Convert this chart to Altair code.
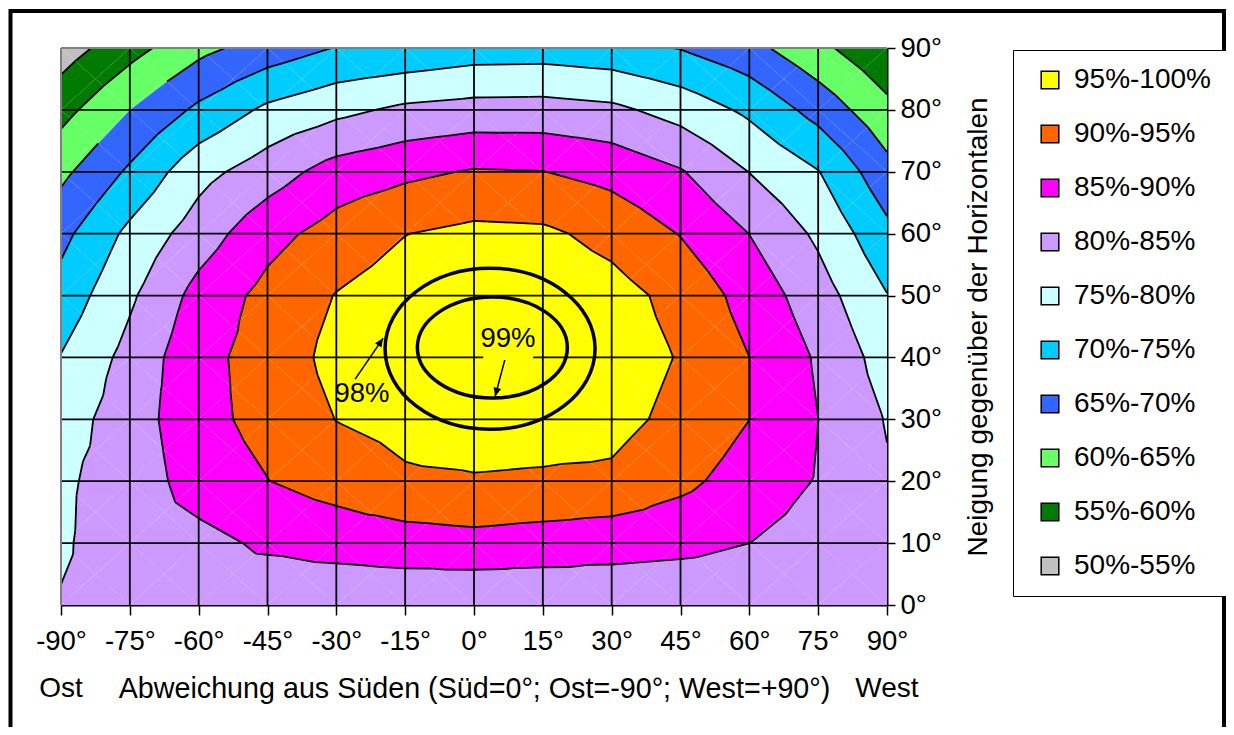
import altair as alt
import pandas as pd

# ---------------- data ----------------
azimuth = [-90, -75, -60, -45, -30, -15, 0, 15, 30, 45, 60, 75, 90]
tilt = [0, 10, 20, 30, 40, 50, 60, 70, 80, 90]

# relative yield (%) per tilt row, columns follow `azimuth`
tilt_00 = [80.3, 82.0, 82.5, 81.2, 80.9, 81.1, 80.5, 80.8, 81.4, 81.0, 81.0, 81.0, 81.0]
tilt_10 = [79.4, 82.7, 83.4, 85.9, 87.0, 87.7, 88.4, 87.7, 86.9, 86.4, 85.02, 83.0, 81.5]
tilt_20 = [79.3, 82.0, 87.4, 89.9, 92.0, 94.3, 94.6, 94.3, 94.1, 91.2, 87.8, 84.7, 80.5]
tilt_30 = [77.8, 82.5, 88.5, 91.5, 95.1, 96.5, 97.5, 97.3, 96.5, 93.7, 90.02, 85.02, 79.7]
tilt_40 = [75.2, 81.6, 88.5, 92.0, 96.5, 97.8, 99.2, 99.3, 97.5, 94.7, 90.02, 84.4, 77.8]
tilt_50 = [71.9, 79.2, 86.7, 91.5, 95.2, 97.5, 98.6, 98.5, 96.8, 93.5, 88.1, 82.2, 75.15]
tilt_60 = [68.6, 76.2, 82.5, 88.3, 92.0, 94.9, 96.2, 95.9, 93.5, 89.8, 84.95, 79.1, 71.3]
tilt_70 = [63.8, 70.8, 78.3, 82.6, 87.1, 88.9, 90.4, 90.1, 88.4, 85.4, 79.9, 75.2, 66.7]
tilt_80 = [58.3, 65.0, 71.0, 76.0, 78.7, 81.0, 81.9, 82.0, 81.1, 78.1, 74.0, 68.2, 61.4]
tilt_90 = [52.5, 58.2, 63.6, 67.2, 70.2, 71.0, 72.4, 72.6, 71.7, 69.8, 66.6, 61.3, 55.8]
yield_grid = [tilt_00, tilt_10, tilt_20, tilt_30, tilt_40,
              tilt_50, tilt_60, tilt_70, tilt_80, tilt_90]

levels = [50, 55, 60, 65, 70, 75, 80, 85, 90, 95, 100]
band_labels = ["50%-55%", "55%-60%", "60%-65%", "65%-70%", "70%-75%",
               "75%-80%", "80%-85%", "85%-90%", "90%-95%", "95%-100%"]
band_colors = ["#C0C0C0", "#007A00", "#66FF66", "#3366FF", "#00CCFF",
               "#CCFFFF", "#CC99FF", "#FF00FF", "#FF6600", "#FFFF00"]

# annotations (98% / 99% rings, labels, arrows)
ring_labels = ["98%", "99%"]
ring_x = [3.5, 4.0]
ring_y = [41.4, 41.6]
label_x = [-24.4, 7.4]
label_y = [34.1, 42.9]
arrow_x = [-25.9, 6.75]
arrow_y = [36.5, 39.7]
arrow_x2 = [-19.8, 4.6]
arrow_y2 = [43.1, 33.7]
arrow_angle = [34.6, 195.0]
box_x = [2.0]
box_x2 = [12.9]
box_y = [39.6]
box_y2 = [44.8]
side_labels = ["Ost", "West"]
side_x = [-90, 90]

FONT = "Liberation Sans"


# ---------------- contour bands (Excel style: 4 triangles per cell) ----------------
def clip(poly, level, keep_above):
    out = []
    n = len(poly)
    for i in range(n):
        a = poly[i]
        b = poly[(i + 1) % n]
        ia = a[2] >= level if keep_above else a[2] <= level
        ib = b[2] >= level if keep_above else b[2] <= level
        if ia:
            out.append(a)
        if ia != ib:
            t = (level - a[2]) / (b[2] - a[2])
            out.append((a[0] + t * (b[0] - a[0]), a[1] + t * (b[1] - a[1]), level))
    return out


def area(poly):
    s = 0.0
    for i in range(len(poly)):
        a = poly[i]
        b = poly[(i + 1) % len(poly)]
        s += a[0] * b[1] - b[0] * a[1]
    return abs(s) / 2


poly_rows = []
seg_rows = []
pid = 0
nb = len(band_labels)
for j in range(len(tilt) - 1):
    for i in range(len(azimuth) - 1):
        x0, x1 = azimuth[i], azimuth[i + 1]
        y0, y1 = tilt[j], tilt[j + 1]
        corners = [(x0, y0, yield_grid[j][i]), (x1, y0, yield_grid[j][i + 1]),
                   (x1, y1, yield_grid[j + 1][i + 1]), (x0, y1, yield_grid[j + 1][i])]
        cv = sum(c[2] for c in corners) / 4
        center = ((x0 + x1) / 2, (y0 + y1) / 2, cv)
        for t in range(4):
            tri = [corners[t], corners[(t + 1) % 4], center]
            for b in range(nb):
                p = tri
                if b > 0:
                    p = clip(p, levels[b], True)
                if b < nb - 1 and len(p) >= 3:
                    p = clip(p, levels[b + 1], False)
                if len(p) >= 3 and area(p) > 1e-6:
                    for k, pt in enumerate(p):
                        poly_rows.append({"pid": pid, "k": k, "x": pt[0], "y": pt[1],
                                          "band": band_labels[b]})
                    pid += 1
            for L in levels[1:-1]:
                pts = []
                for e in range(3):
                    a = tri[e]
                    bb = tri[(e + 1) % 3]
                    if (a[2] - L) * (bb[2] - L) < 0:
                        tt = (L - a[2]) / (bb[2] - a[2])
                        pts.append((a[0] + tt * (bb[0] - a[0]), a[1] + tt * (bb[1] - a[1])))
                if len(pts) == 2:
                    seg_rows.append({"x": pts[0][0], "y": pts[0][1],
                                     "x2": pts[1][0], "y2": pts[1][1]})

poly_df = pd.DataFrame(poly_rows)
seg_df = pd.DataFrame(seg_rows)

xs = alt.Scale(domain=[-90, 90], nice=False, zero=False)
ys = alt.Scale(domain=[0, 90], nice=False, zero=False)

x_axis = alt.Axis(values=azimuth, labelExpr="datum.value + '°'",
                  title="Abweichung aus Süden (Süd=0°; Ost=-90°; West=+90°)",
                  grid=False, tickSize=10, tickColor="black", tickWidth=1.5,
                  domainColor="black", domainWidth=2, labelFontSize=27.5,
                  labelColor="black", labelPadding=12, labelFlush=False,
                  labelOverlap=False, labelFont=FONT,
                  titleFont=FONT, titleFontSize=28.7, titleFontWeight="normal",
                  titleColor="black", titleY=92, titleBaseline="alphabetic")
y_axis = alt.Axis(orient="right", values=tilt, labelExpr="datum.value + '°'",
                  title="Neigung gegenüber der Horizontalen",
                  grid=False, tickSize=8, tickColor="black", tickWidth=1.5,
                  domainColor="black", domainWidth=2, labelFontSize=27.5,
                  labelColor="black", labelPadding=5, labelFlush=False,
                  labelOverlap=False, labelFont=FONT,
                  titleFont=FONT, titleFontSize=28, titleFontWeight="normal",
                  titleColor="black", titleAngle=270, titleX=91, titleY=278.5,
                  titleAlign="center", titleBaseline="middle")

X = lambda f: alt.X(f, scale=xs)
Y = lambda f: alt.Y(f, scale=ys)

bands = alt.Chart(poly_df).mark_line(strokeOpacity=0, strokeWidth=0, interpolate="linear").encode(
    x=alt.X("x:Q", scale=xs, axis=x_axis),
    y=alt.Y("y:Q", scale=ys, axis=y_axis),
    fill=alt.Fill("band:N",
                  scale=alt.Scale(domain=band_labels[::-1], range=band_colors[::-1]),
                  legend=alt.Legend(title=None, orient="none", legendX=952, legendY=2,
                                    strokeColor="black", fillColor="white", padding=16,
                                    symbolType="square", symbolSize=310,
                                    symbolStrokeColor="black", symbolStrokeWidth=1.5,
                                    labelFontSize=28, labelColor="black", labelFont=FONT,
                                    rowPadding=26, symbolOffset=7, labelOffset=10)),
    detail="pid:N",
    order="k:Q",
)

contours = alt.Chart(seg_df).mark_rule(color="black", strokeWidth=1.8).encode(
    x=X("x:Q"), y=Y("y:Q"), x2="x2:Q", y2="y2:Q")

vgrid = alt.Chart(pd.DataFrame({"x": azimuth[1:-1]})).mark_rule(color="black", strokeWidth=1.8).encode(
    x=X("x:Q"))
hgrid = alt.Chart(pd.DataFrame({"y": tilt[1:-1]})).mark_rule(color="black", strokeWidth=1.8).encode(
    y=Y("y:Q"))
left_border = alt.Chart(pd.DataFrame({"x": [azimuth[0]]})).mark_rule(color="#808080", strokeWidth=2).encode(
    x=X("x:Q"))
top_border = alt.Chart(pd.DataFrame({"y": [tilt[-1]]})).mark_rule(color="#808080", strokeWidth=2).encode(
    y=Y("y:Q"))

ring_df = pd.DataFrame({"x": ring_x, "y": ring_y, "label": ring_labels})
outer_ring = alt.Chart(ring_df.iloc[[0]]).mark_point(
    shape="M-1,0A1,0.7667,0,1,0,1,0A1,0.7667,0,1,0,-1,0Z", size=44100,
    filled=False, stroke="black", strokeWidth=3.5, opacity=1).encode(
    x=X("x:Q"), y=Y("y:Q"))
inner_ring = alt.Chart(ring_df.iloc[[1]]).mark_point(
    shape="M-1,0A1,0.6733,0,1,0,1,0A1,0.6733,0,1,0,-1,0Z", size=22500,
    filled=False, stroke="black", strokeWidth=3.5, opacity=1).encode(
    x=X("x:Q"), y=Y("y:Q"))

arrow_df = pd.DataFrame({"x": arrow_x, "y": arrow_y, "x2": arrow_x2, "y2": arrow_y2,
                         "ang": arrow_angle})
arrow_lines = alt.Chart(arrow_df).mark_rule(color="black", strokeWidth=1.5).encode(
    x=X("x:Q"), y=Y("y:Q"), x2="x2:Q", y2="y2:Q")
arrow_heads = alt.Chart(arrow_df).mark_point(
    shape="M0,0L-0.45,1L0.45,1Z", size=300, filled=True, fill="black",
    strokeWidth=0, opacity=1).encode(
    x=X("x2:Q"), y=Y("y2:Q"), angle=alt.Angle("ang:Q", scale=None))

box = alt.Chart(pd.DataFrame({"x": box_x, "x2": box_x2, "y": box_y, "y2": box_y2})).mark_rect(
    fill="#FFFF00").encode(x=X("x:Q"), x2="x2:Q", y=Y("y:Q"), y2="y2:Q")

ring_text = alt.Chart(pd.DataFrame({"x": label_x, "y": label_y, "label": ring_labels})).mark_text(
    font=FONT, fontSize=27.5, color="black", align="center", baseline="middle").encode(
    x=X("x:Q"), y=Y("y:Q"), text="label:N")

side_text = alt.Chart(pd.DataFrame({"x": side_x, "label": side_labels})).mark_text(
    font=FONT, fontSize=28, color="black", align="center", baseline="alphabetic").encode(
    x=X("x:Q"), y=alt.value(649), text="label:N")

frame = alt.Chart(pd.DataFrame({"f": [0]})).mark_rect(
    fillOpacity=0, stroke="black", strokeWidth=4).encode(
    x=alt.value(-50.5), x2=alt.value(1163), y=alt.value(-37), y2=alt.value(720))

chart = alt.layer(
    bands, contours, vgrid, hgrid, left_border, top_border,
    outer_ring, inner_ring, arrow_lines, arrow_heads, box, ring_text, side_text, frame
).properties(
    width=826, height=557,
    autosize=alt.AutoSizeParams(type="none"),
    padding={"left": 53, "top": 40, "right": 339, "bottom": 122},
    background="white",
).configure_view(strokeWidth=0).configure_legend(strokeWidth=2).configure(font=FONT)

chart.save("out.html", embed_options={"renderer": "svg", "actions": False})
